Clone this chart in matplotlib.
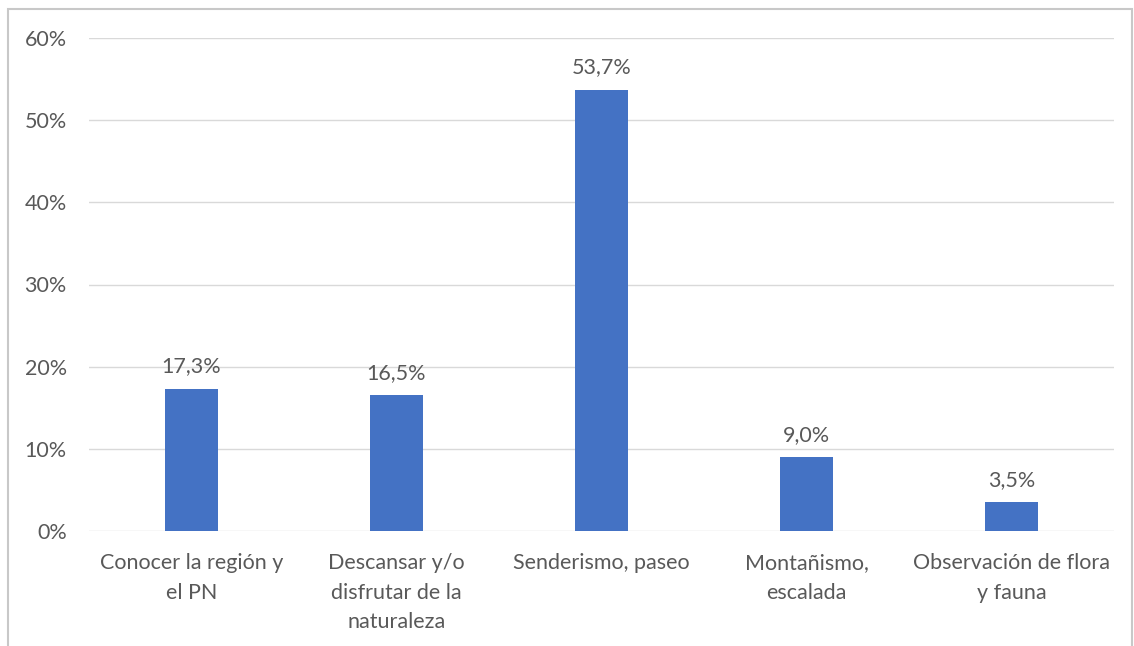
import matplotlib.pyplot as plt
from matplotlib.patches import Rectangle

categories = ["Conocer la región y\nel PN", "Descansar y/o\ndisfrutar de la\nnaturaleza",
              "Senderismo, paseo", "Montañismo,\nescalada", "Observación de flora\ny fauna"]
values = [17.3, 16.5, 53.7, 9.0, 3.5]
yticks = [0, 10, 20, 30, 40, 50, 60]

plt.rcParams['font.family'] = ['Lato', 'DejaVu Sans']
txt = '#595959'

fig = plt.figure(figsize=(11.34, 6.46), dpi=100)
ax = fig.add_axes([89 / 1134, 1 - 531 / 646, 1025 / 1134, 493 / 646])

x = range(len(categories))
ax.bar(x, values, width=0.26, color='#4472C4', zorder=3)
for xi, v in zip(x, values):
    ax.text(xi, v + 1.5, f"{v:.1f}%".replace('.', ','), ha='center', va='bottom',
            fontsize=15.5, color=txt)

ax.set_xlim(-0.5, len(categories) - 0.5)
ax.set_ylim(0, 60)
ax.set_yticks(yticks)
ax.set_yticklabels([f"{t}%" for t in yticks], fontsize=15.5, color=txt)
ax.set_xticks(list(x))
ax.set_xticklabels(categories, fontsize=15.5, color=txt, va='top', linespacing=1.6)
ax.tick_params(axis='y', length=0, pad=16)
ax.tick_params(axis='x', length=0, pad=16)
ax.grid(axis='y', color='#D9D9D9', lw=1, zorder=0)
for s in ax.spines.values():
    s.set_visible(False)

fig.patches.append(Rectangle((8 / 1134, -0.01), 1124 / 1134, 1 - 9 / 646 + 0.01,
                             transform=fig.transFigure, fill=False,
                             edgecolor='#C8C8C8', lw=1.5))

fig.savefig('out.png', dpi=100)
